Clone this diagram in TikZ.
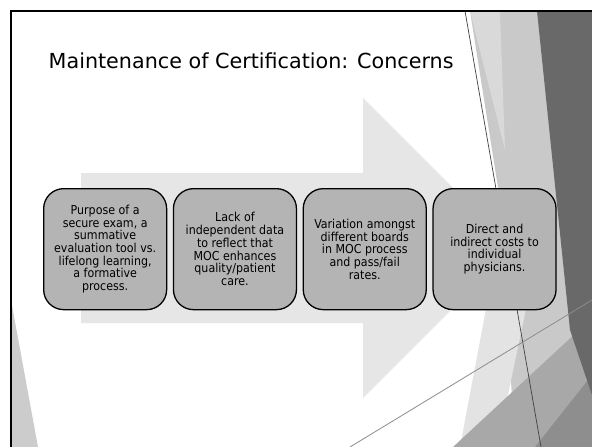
\documentclass[tikz,border=0pt]{standalone}
\usepackage{fontspec}
\setmainfont{DejaVu Sans}
\newfontfamily\boxfont{DejaVu Sans Condensed}
\usetikzlibrary{positioning}

\definecolor{arrowgray}{HTML}{E6E6E6}
\definecolor{boxgray}{HTML}{B4B4B4}
\definecolor{bandgray}{HTML}{C9C9C9}
\definecolor{palegray}{HTML}{E3E3E3}
\definecolor{midgray}{HTML}{A8A8A8}
\definecolor{deepgray}{HTML}{8E8E8E}
\definecolor{darkgray}{HTML}{696969}

\begin{document}
\begin{tikzpicture}[
    x=1pt, y=-1pt,
    node distance=5.5pt,
    concern/.style={draw=black, line width=1.3pt, rounded corners=20pt, fill=boxgray,
        minimum width=123pt, minimum height=121pt, inner sep=0pt, align=center,
        font=\boxfont\fontsize{12.3}{12.7}\selectfont},
    titletext/.style={anchor=base west, inner sep=0pt, font=\fontsize{20.7}{24}\selectfont}
]
\useasboundingbox (0,0) rectangle (592,447);
\fill[white] (0,0) rectangle (592,447);

% slide background shards
\fill[bandgray] (470,11) -- (592,11) -- (592,447) -- (515,447) -- (500,200) -- cycle;
\fill[gray!30] (470,11) -- (500,11) -- (505,150) -- cycle;
\fill[palegray] (486,309) -- (526,309) -- (497,447) -- (460,447) -- cycle;
\fill[midgray] (453,447) -- (592,318) -- (592,447) -- cycle;
\fill[deepgray] (535,447) -- (592,375) -- (592,447) -- cycle;
\fill[darkgray] (537,11) -- (592,11) -- (592,395) -- (570,330) -- cycle;
\fill[gray!40] (11,300) -- (38,447) -- (11,447) -- cycle;
\draw[black!75, line width=0.7pt] (465,11) -- (541,447);
\draw[black!45, line width=0.8pt] (350,447) -- (592,300);

% frame
\draw[black, line width=1.7pt] (10.8,447) -- (10.8,10.8) -- (592,10.8);

\node[titletext] (title) at (48.5,68.5) {Maintenance of Certification: Concerns};

% big arrow behind the boxes
\fill[arrowgray] (81,173) -- (363,173) -- (363,98) -- (513,248) -- (363,398) -- (363,323) -- (81,323) -- cycle;

\node[concern, anchor=north west] (purpose) at (43,188) {Purpose of a\\secure exam, a\\summative\\evaluation tool vs.\\lifelong learning,\\a formative\\process.};
\node[concern, right=of purpose] (data) {Lack of\\independent data\\to reflect that\\MOC enhances\\quality/patient\\care.};
\node[concern, right=of data] (boards) {Variation amongst\\different boards\\in MOC process\\and pass/fail\\rates.};
\node[concern, right=of boards] (costs) {Direct and\\indirect costs to\\individual\\physicians.};
\end{tikzpicture}
\end{document}
